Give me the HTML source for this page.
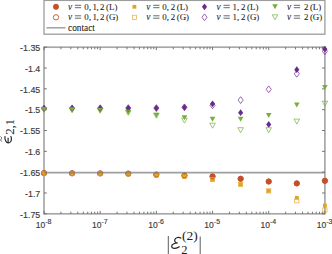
<!DOCTYPE html>
<html><head><meta charset="utf-8"><style>
html,body{margin:0;padding:0;background:#fff;width:332px;height:254px;overflow:hidden}
svg{display:block}
.tk{font-family:"Liberation Sans",sans-serif;font-size:8.9px;fill:#3a3a3a;stroke:#3a3a3a;stroke-width:0.15px}
.lg{font-family:"Liberation Serif",serif;font-size:9.3px;fill:#1e1e1e;stroke:#1e1e1e;stroke-width:0.08px}
.lab{font-family:"Liberation Serif",serif;font-size:13px;fill:#222}
</style></head><body>
<svg width="332" height="254" viewBox="0 0 332 254">
<rect x="44.0" y="47.2" width="280.9" height="166.60000000000002" fill="none" stroke="#a8a8a8" stroke-width="1.7"/>
<line x1="44.0" y1="47.20" x2="46.9" y2="47.20" stroke="#666" stroke-width="0.9"/>
<line x1="324.9" y1="47.20" x2="322.0" y2="47.20" stroke="#666" stroke-width="0.9"/>
<text x="40.3" y="50.90" text-anchor="end" class="tk">-1.35</text>
<line x1="44.0" y1="68.03" x2="46.9" y2="68.03" stroke="#666" stroke-width="0.9"/>
<line x1="324.9" y1="68.03" x2="322.0" y2="68.03" stroke="#666" stroke-width="0.9"/>
<text x="40.3" y="71.73" text-anchor="end" class="tk">-1.4</text>
<line x1="44.0" y1="88.85" x2="46.9" y2="88.85" stroke="#666" stroke-width="0.9"/>
<line x1="324.9" y1="88.85" x2="322.0" y2="88.85" stroke="#666" stroke-width="0.9"/>
<text x="40.3" y="92.55" text-anchor="end" class="tk">-1.45</text>
<line x1="44.0" y1="109.67" x2="46.9" y2="109.67" stroke="#666" stroke-width="0.9"/>
<line x1="324.9" y1="109.67" x2="322.0" y2="109.67" stroke="#666" stroke-width="0.9"/>
<text x="40.3" y="113.37" text-anchor="end" class="tk">-1.5</text>
<line x1="44.0" y1="130.50" x2="46.9" y2="130.50" stroke="#666" stroke-width="0.9"/>
<line x1="324.9" y1="130.50" x2="322.0" y2="130.50" stroke="#666" stroke-width="0.9"/>
<text x="40.3" y="134.20" text-anchor="end" class="tk">-1.55</text>
<line x1="44.0" y1="151.33" x2="46.9" y2="151.33" stroke="#666" stroke-width="0.9"/>
<line x1="324.9" y1="151.33" x2="322.0" y2="151.33" stroke="#666" stroke-width="0.9"/>
<text x="40.3" y="155.03" text-anchor="end" class="tk">-1.6</text>
<line x1="44.0" y1="172.15" x2="46.9" y2="172.15" stroke="#666" stroke-width="0.9"/>
<line x1="324.9" y1="172.15" x2="322.0" y2="172.15" stroke="#666" stroke-width="0.9"/>
<text x="40.3" y="175.85" text-anchor="end" class="tk">-1.65</text>
<line x1="44.0" y1="192.98" x2="46.9" y2="192.98" stroke="#666" stroke-width="0.9"/>
<line x1="324.9" y1="192.98" x2="322.0" y2="192.98" stroke="#666" stroke-width="0.9"/>
<text x="40.3" y="196.68" text-anchor="end" class="tk">-1.7</text>
<line x1="44.0" y1="213.80" x2="46.9" y2="213.80" stroke="#666" stroke-width="0.9"/>
<line x1="324.9" y1="213.80" x2="322.0" y2="213.80" stroke="#666" stroke-width="0.9"/>
<text x="40.3" y="217.50" text-anchor="end" class="tk">-1.75</text>
<line x1="44.00" y1="213.8" x2="44.00" y2="210.9" stroke="#666" stroke-width="0.9"/>
<line x1="44.00" y1="47.2" x2="44.00" y2="50.1" stroke="#666" stroke-width="0.9"/>
<line x1="60.91" y1="213.8" x2="60.91" y2="211.70000000000002" stroke="#666" stroke-width="0.9"/>
<line x1="60.91" y1="47.2" x2="60.91" y2="49.300000000000004" stroke="#666" stroke-width="0.9"/>
<line x1="70.80" y1="213.8" x2="70.80" y2="211.70000000000002" stroke="#666" stroke-width="0.9"/>
<line x1="70.80" y1="47.2" x2="70.80" y2="49.300000000000004" stroke="#666" stroke-width="0.9"/>
<line x1="77.82" y1="213.8" x2="77.82" y2="211.70000000000002" stroke="#666" stroke-width="0.9"/>
<line x1="77.82" y1="47.2" x2="77.82" y2="49.300000000000004" stroke="#666" stroke-width="0.9"/>
<line x1="83.27" y1="213.8" x2="83.27" y2="211.70000000000002" stroke="#666" stroke-width="0.9"/>
<line x1="83.27" y1="47.2" x2="83.27" y2="49.300000000000004" stroke="#666" stroke-width="0.9"/>
<line x1="87.72" y1="213.8" x2="87.72" y2="211.70000000000002" stroke="#666" stroke-width="0.9"/>
<line x1="87.72" y1="47.2" x2="87.72" y2="49.300000000000004" stroke="#666" stroke-width="0.9"/>
<line x1="91.48" y1="213.8" x2="91.48" y2="211.70000000000002" stroke="#666" stroke-width="0.9"/>
<line x1="91.48" y1="47.2" x2="91.48" y2="49.300000000000004" stroke="#666" stroke-width="0.9"/>
<line x1="94.74" y1="213.8" x2="94.74" y2="211.70000000000002" stroke="#666" stroke-width="0.9"/>
<line x1="94.74" y1="47.2" x2="94.74" y2="49.300000000000004" stroke="#666" stroke-width="0.9"/>
<line x1="97.61" y1="213.8" x2="97.61" y2="211.70000000000002" stroke="#666" stroke-width="0.9"/>
<line x1="97.61" y1="47.2" x2="97.61" y2="49.300000000000004" stroke="#666" stroke-width="0.9"/>
<text x="35.80" y="228.4" class="tk" style="font-size:8.5px">10<tspan dy="-4" font-size="7">-8</tspan></text>
<line x1="100.18" y1="213.8" x2="100.18" y2="210.9" stroke="#666" stroke-width="0.9"/>
<line x1="100.18" y1="47.2" x2="100.18" y2="50.1" stroke="#666" stroke-width="0.9"/>
<line x1="117.09" y1="213.8" x2="117.09" y2="211.70000000000002" stroke="#666" stroke-width="0.9"/>
<line x1="117.09" y1="47.2" x2="117.09" y2="49.300000000000004" stroke="#666" stroke-width="0.9"/>
<line x1="126.98" y1="213.8" x2="126.98" y2="211.70000000000002" stroke="#666" stroke-width="0.9"/>
<line x1="126.98" y1="47.2" x2="126.98" y2="49.300000000000004" stroke="#666" stroke-width="0.9"/>
<line x1="134.00" y1="213.8" x2="134.00" y2="211.70000000000002" stroke="#666" stroke-width="0.9"/>
<line x1="134.00" y1="47.2" x2="134.00" y2="49.300000000000004" stroke="#666" stroke-width="0.9"/>
<line x1="139.45" y1="213.8" x2="139.45" y2="211.70000000000002" stroke="#666" stroke-width="0.9"/>
<line x1="139.45" y1="47.2" x2="139.45" y2="49.300000000000004" stroke="#666" stroke-width="0.9"/>
<line x1="143.90" y1="213.8" x2="143.90" y2="211.70000000000002" stroke="#666" stroke-width="0.9"/>
<line x1="143.90" y1="47.2" x2="143.90" y2="49.300000000000004" stroke="#666" stroke-width="0.9"/>
<line x1="147.66" y1="213.8" x2="147.66" y2="211.70000000000002" stroke="#666" stroke-width="0.9"/>
<line x1="147.66" y1="47.2" x2="147.66" y2="49.300000000000004" stroke="#666" stroke-width="0.9"/>
<line x1="150.92" y1="213.8" x2="150.92" y2="211.70000000000002" stroke="#666" stroke-width="0.9"/>
<line x1="150.92" y1="47.2" x2="150.92" y2="49.300000000000004" stroke="#666" stroke-width="0.9"/>
<line x1="153.79" y1="213.8" x2="153.79" y2="211.70000000000002" stroke="#666" stroke-width="0.9"/>
<line x1="153.79" y1="47.2" x2="153.79" y2="49.300000000000004" stroke="#666" stroke-width="0.9"/>
<text x="91.98" y="228.4" class="tk" style="font-size:8.5px">10<tspan dy="-4" font-size="7">-7</tspan></text>
<line x1="156.36" y1="213.8" x2="156.36" y2="210.9" stroke="#666" stroke-width="0.9"/>
<line x1="156.36" y1="47.2" x2="156.36" y2="50.1" stroke="#666" stroke-width="0.9"/>
<line x1="173.27" y1="213.8" x2="173.27" y2="211.70000000000002" stroke="#666" stroke-width="0.9"/>
<line x1="173.27" y1="47.2" x2="173.27" y2="49.300000000000004" stroke="#666" stroke-width="0.9"/>
<line x1="183.16" y1="213.8" x2="183.16" y2="211.70000000000002" stroke="#666" stroke-width="0.9"/>
<line x1="183.16" y1="47.2" x2="183.16" y2="49.300000000000004" stroke="#666" stroke-width="0.9"/>
<line x1="190.18" y1="213.8" x2="190.18" y2="211.70000000000002" stroke="#666" stroke-width="0.9"/>
<line x1="190.18" y1="47.2" x2="190.18" y2="49.300000000000004" stroke="#666" stroke-width="0.9"/>
<line x1="195.63" y1="213.8" x2="195.63" y2="211.70000000000002" stroke="#666" stroke-width="0.9"/>
<line x1="195.63" y1="47.2" x2="195.63" y2="49.300000000000004" stroke="#666" stroke-width="0.9"/>
<line x1="200.08" y1="213.8" x2="200.08" y2="211.70000000000002" stroke="#666" stroke-width="0.9"/>
<line x1="200.08" y1="47.2" x2="200.08" y2="49.300000000000004" stroke="#666" stroke-width="0.9"/>
<line x1="203.84" y1="213.8" x2="203.84" y2="211.70000000000002" stroke="#666" stroke-width="0.9"/>
<line x1="203.84" y1="47.2" x2="203.84" y2="49.300000000000004" stroke="#666" stroke-width="0.9"/>
<line x1="207.10" y1="213.8" x2="207.10" y2="211.70000000000002" stroke="#666" stroke-width="0.9"/>
<line x1="207.10" y1="47.2" x2="207.10" y2="49.300000000000004" stroke="#666" stroke-width="0.9"/>
<line x1="209.97" y1="213.8" x2="209.97" y2="211.70000000000002" stroke="#666" stroke-width="0.9"/>
<line x1="209.97" y1="47.2" x2="209.97" y2="49.300000000000004" stroke="#666" stroke-width="0.9"/>
<text x="148.16" y="228.4" class="tk" style="font-size:8.5px">10<tspan dy="-4" font-size="7">-6</tspan></text>
<line x1="212.54" y1="213.8" x2="212.54" y2="210.9" stroke="#666" stroke-width="0.9"/>
<line x1="212.54" y1="47.2" x2="212.54" y2="50.1" stroke="#666" stroke-width="0.9"/>
<line x1="229.45" y1="213.8" x2="229.45" y2="211.70000000000002" stroke="#666" stroke-width="0.9"/>
<line x1="229.45" y1="47.2" x2="229.45" y2="49.300000000000004" stroke="#666" stroke-width="0.9"/>
<line x1="239.34" y1="213.8" x2="239.34" y2="211.70000000000002" stroke="#666" stroke-width="0.9"/>
<line x1="239.34" y1="47.2" x2="239.34" y2="49.300000000000004" stroke="#666" stroke-width="0.9"/>
<line x1="246.36" y1="213.8" x2="246.36" y2="211.70000000000002" stroke="#666" stroke-width="0.9"/>
<line x1="246.36" y1="47.2" x2="246.36" y2="49.300000000000004" stroke="#666" stroke-width="0.9"/>
<line x1="251.81" y1="213.8" x2="251.81" y2="211.70000000000002" stroke="#666" stroke-width="0.9"/>
<line x1="251.81" y1="47.2" x2="251.81" y2="49.300000000000004" stroke="#666" stroke-width="0.9"/>
<line x1="256.26" y1="213.8" x2="256.26" y2="211.70000000000002" stroke="#666" stroke-width="0.9"/>
<line x1="256.26" y1="47.2" x2="256.26" y2="49.300000000000004" stroke="#666" stroke-width="0.9"/>
<line x1="260.02" y1="213.8" x2="260.02" y2="211.70000000000002" stroke="#666" stroke-width="0.9"/>
<line x1="260.02" y1="47.2" x2="260.02" y2="49.300000000000004" stroke="#666" stroke-width="0.9"/>
<line x1="263.28" y1="213.8" x2="263.28" y2="211.70000000000002" stroke="#666" stroke-width="0.9"/>
<line x1="263.28" y1="47.2" x2="263.28" y2="49.300000000000004" stroke="#666" stroke-width="0.9"/>
<line x1="266.15" y1="213.8" x2="266.15" y2="211.70000000000002" stroke="#666" stroke-width="0.9"/>
<line x1="266.15" y1="47.2" x2="266.15" y2="49.300000000000004" stroke="#666" stroke-width="0.9"/>
<text x="204.34" y="228.4" class="tk" style="font-size:8.5px">10<tspan dy="-4" font-size="7">-5</tspan></text>
<line x1="268.72" y1="213.8" x2="268.72" y2="210.9" stroke="#666" stroke-width="0.9"/>
<line x1="268.72" y1="47.2" x2="268.72" y2="50.1" stroke="#666" stroke-width="0.9"/>
<line x1="285.63" y1="213.8" x2="285.63" y2="211.70000000000002" stroke="#666" stroke-width="0.9"/>
<line x1="285.63" y1="47.2" x2="285.63" y2="49.300000000000004" stroke="#666" stroke-width="0.9"/>
<line x1="295.52" y1="213.8" x2="295.52" y2="211.70000000000002" stroke="#666" stroke-width="0.9"/>
<line x1="295.52" y1="47.2" x2="295.52" y2="49.300000000000004" stroke="#666" stroke-width="0.9"/>
<line x1="302.54" y1="213.8" x2="302.54" y2="211.70000000000002" stroke="#666" stroke-width="0.9"/>
<line x1="302.54" y1="47.2" x2="302.54" y2="49.300000000000004" stroke="#666" stroke-width="0.9"/>
<line x1="307.99" y1="213.8" x2="307.99" y2="211.70000000000002" stroke="#666" stroke-width="0.9"/>
<line x1="307.99" y1="47.2" x2="307.99" y2="49.300000000000004" stroke="#666" stroke-width="0.9"/>
<line x1="312.44" y1="213.8" x2="312.44" y2="211.70000000000002" stroke="#666" stroke-width="0.9"/>
<line x1="312.44" y1="47.2" x2="312.44" y2="49.300000000000004" stroke="#666" stroke-width="0.9"/>
<line x1="316.20" y1="213.8" x2="316.20" y2="211.70000000000002" stroke="#666" stroke-width="0.9"/>
<line x1="316.20" y1="47.2" x2="316.20" y2="49.300000000000004" stroke="#666" stroke-width="0.9"/>
<line x1="319.46" y1="213.8" x2="319.46" y2="211.70000000000002" stroke="#666" stroke-width="0.9"/>
<line x1="319.46" y1="47.2" x2="319.46" y2="49.300000000000004" stroke="#666" stroke-width="0.9"/>
<line x1="322.33" y1="213.8" x2="322.33" y2="211.70000000000002" stroke="#666" stroke-width="0.9"/>
<line x1="322.33" y1="47.2" x2="322.33" y2="49.300000000000004" stroke="#666" stroke-width="0.9"/>
<text x="260.52" y="228.4" class="tk" style="font-size:8.5px">10<tspan dy="-4" font-size="7">-4</tspan></text>
<line x1="324.90" y1="213.8" x2="324.90" y2="210.9" stroke="#666" stroke-width="0.9"/>
<line x1="324.90" y1="47.2" x2="324.90" y2="50.1" stroke="#666" stroke-width="0.9"/>
<text x="316.70" y="228.4" class="tk" style="font-size:8.5px">10<tspan dy="-4" font-size="7">-3</tspan></text>
<circle cx="44.00" cy="173.10" r="2.7" fill="#c2512a" stroke="#c2512a" stroke-width="0.6"/>
<circle cx="72.09" cy="173.30" r="2.7" fill="#c2512a" stroke="#c2512a" stroke-width="0.6"/>
<circle cx="100.18" cy="173.40" r="2.7" fill="#c2512a" stroke="#c2512a" stroke-width="0.6"/>
<circle cx="128.27" cy="173.60" r="2.7" fill="#c2512a" stroke="#c2512a" stroke-width="0.6"/>
<circle cx="156.36" cy="174.60" r="2.7" fill="#c2512a" stroke="#c2512a" stroke-width="0.6"/>
<circle cx="184.45" cy="175.60" r="2.7" fill="#c2512a" stroke="#c2512a" stroke-width="0.6"/>
<circle cx="212.54" cy="176.40" r="2.7" fill="#c2512a" stroke="#c2512a" stroke-width="0.6"/>
<circle cx="240.63" cy="178.80" r="2.7" fill="#c2512a" stroke="#c2512a" stroke-width="0.6"/>
<circle cx="268.72" cy="181.50" r="2.7" fill="#c2512a" stroke="#c2512a" stroke-width="0.6"/>
<circle cx="296.81" cy="183.40" r="2.7" fill="#c2512a" stroke="#c2512a" stroke-width="0.6"/>
<circle cx="324.90" cy="180.80" r="2.7" fill="#c2512a" stroke="#c2512a" stroke-width="0.6"/>
<rect x="42.10" y="171.40" width="3.8" height="3.8" fill="#dfa52a"/>
<rect x="70.19" y="171.60" width="3.8" height="3.8" fill="#dfa52a"/>
<rect x="98.28" y="171.70" width="3.8" height="3.8" fill="#dfa52a"/>
<rect x="126.37" y="172.00" width="3.8" height="3.8" fill="#dfa52a"/>
<rect x="154.46" y="173.20" width="3.8" height="3.8" fill="#dfa52a"/>
<rect x="182.55" y="174.40" width="3.8" height="3.8" fill="#dfa52a"/>
<rect x="210.64" y="177.70" width="3.8" height="3.8" fill="#dfa52a"/>
<rect x="238.73" y="182.50" width="3.8" height="3.8" fill="#dfa52a"/>
<rect x="266.82" y="189.00" width="3.8" height="3.8" fill="#dfa52a"/>
<rect x="294.91" y="195.90" width="3.8" height="3.8" fill="#dfa52a"/>
<rect x="323.00" y="203.70" width="3.8" height="3.8" fill="#dfa52a"/>
<path d="M44.00 105.10L46.55 108.50L44.00 111.90L41.45 108.50Z" fill="#6b2a8e"/>
<path d="M72.09 104.90L74.64 108.30L72.09 111.70L69.54 108.30Z" fill="#6b2a8e"/>
<path d="M100.18 104.80L102.73 108.20L100.18 111.60L97.63 108.20Z" fill="#6b2a8e"/>
<path d="M128.27 104.70L130.82 108.10L128.27 111.50L125.72 108.10Z" fill="#6b2a8e"/>
<path d="M156.36 104.70L158.91 108.10L156.36 111.50L153.81 108.10Z" fill="#6b2a8e"/>
<path d="M184.45 103.90L187.00 107.30L184.45 110.70L181.90 107.30Z" fill="#6b2a8e"/>
<path d="M212.54 100.40L215.09 103.80L212.54 107.20L209.99 103.80Z" fill="#6b2a8e"/>
<path d="M240.63 109.30L243.18 112.70L240.63 116.10L238.08 112.70Z" fill="#6b2a8e"/>
<path d="M268.72 121.00L271.27 124.40L268.72 127.80L266.17 124.40Z" fill="#6b2a8e"/>
<path d="M296.81 66.30L299.36 69.70L296.81 73.10L294.26 69.70Z" fill="#6b2a8e"/>
<path d="M324.90 45.80L327.45 49.20L324.90 52.60L322.35 49.20Z" fill="#6b2a8e"/>
<path d="M41.20 107.10L46.80 107.10L44.00 112.10Z" fill="#78ae3e"/>
<path d="M69.29 107.50L74.89 107.50L72.09 112.50Z" fill="#78ae3e"/>
<path d="M97.38 108.00L102.98 108.00L100.18 113.00Z" fill="#78ae3e"/>
<path d="M125.47 110.00L131.07 110.00L128.27 115.00Z" fill="#78ae3e"/>
<path d="M153.56 112.70L159.16 112.70L156.36 117.70Z" fill="#78ae3e"/>
<path d="M181.65 115.20L187.25 115.20L184.45 120.20Z" fill="#78ae3e"/>
<path d="M209.74 116.80L215.34 116.80L212.54 121.80Z" fill="#78ae3e"/>
<path d="M237.83 116.80L243.43 116.80L240.63 121.80Z" fill="#78ae3e"/>
<path d="M265.92 112.90L271.52 112.90L268.72 117.90Z" fill="#78ae3e"/>
<path d="M294.01 102.40L299.61 102.40L296.81 107.40Z" fill="#78ae3e"/>
<path d="M322.10 84.90L327.70 84.90L324.90 89.90Z" fill="#78ae3e"/>
<circle cx="44.00" cy="173.10" r="2.5" fill="none" stroke="#c2512a" stroke-width="0.9"/>
<circle cx="72.09" cy="173.30" r="2.5" fill="none" stroke="#c2512a" stroke-width="0.9"/>
<circle cx="100.18" cy="173.40" r="2.5" fill="none" stroke="#c2512a" stroke-width="0.9"/>
<circle cx="128.27" cy="173.60" r="2.5" fill="none" stroke="#c2512a" stroke-width="0.9"/>
<circle cx="156.36" cy="174.60" r="2.5" fill="none" stroke="#c2512a" stroke-width="0.9"/>
<circle cx="184.45" cy="175.60" r="2.5" fill="none" stroke="#c2512a" stroke-width="0.9"/>
<circle cx="212.54" cy="176.40" r="2.5" fill="none" stroke="#c2512a" stroke-width="0.9"/>
<circle cx="240.63" cy="178.80" r="2.5" fill="none" stroke="#c2512a" stroke-width="0.9"/>
<circle cx="268.72" cy="181.50" r="2.5" fill="none" stroke="#c2512a" stroke-width="0.9"/>
<circle cx="296.81" cy="183.40" r="2.5" fill="none" stroke="#c2512a" stroke-width="0.9"/>
<circle cx="324.90" cy="180.80" r="2.5" fill="none" stroke="#c2512a" stroke-width="0.9"/>
<rect x="41.90" y="171.20" width="4.2" height="4.2" fill="none" stroke="#dfa52a" stroke-width="0.65"/>
<rect x="69.99" y="171.40" width="4.2" height="4.2" fill="none" stroke="#dfa52a" stroke-width="0.65"/>
<rect x="98.08" y="171.50" width="4.2" height="4.2" fill="none" stroke="#dfa52a" stroke-width="0.65"/>
<rect x="126.17" y="171.80" width="4.2" height="4.2" fill="none" stroke="#dfa52a" stroke-width="0.65"/>
<rect x="154.26" y="173.00" width="4.2" height="4.2" fill="none" stroke="#dfa52a" stroke-width="0.65"/>
<rect x="182.35" y="174.20" width="4.2" height="4.2" fill="none" stroke="#dfa52a" stroke-width="0.65"/>
<rect x="210.44" y="177.50" width="4.2" height="4.2" fill="none" stroke="#dfa52a" stroke-width="0.65"/>
<rect x="238.53" y="182.30" width="4.2" height="4.2" fill="none" stroke="#dfa52a" stroke-width="0.65"/>
<rect x="266.62" y="188.80" width="4.2" height="4.2" fill="none" stroke="#dfa52a" stroke-width="0.65"/>
<rect x="294.71" y="198.70" width="4.2" height="4.2" fill="none" stroke="#dfa52a" stroke-width="0.65"/>
<rect x="322.80" y="207.90" width="4.2" height="4.2" fill="none" stroke="#dfa52a" stroke-width="0.65"/>
<path d="M44.00 105.10L46.55 108.50L44.00 111.90L41.45 108.50Z" fill="none" stroke="#6b2a8e" stroke-width="0.7"/>
<path d="M72.09 104.90L74.64 108.30L72.09 111.70L69.54 108.30Z" fill="none" stroke="#6b2a8e" stroke-width="0.7"/>
<path d="M100.18 104.80L102.73 108.20L100.18 111.60L97.63 108.20Z" fill="none" stroke="#6b2a8e" stroke-width="0.7"/>
<path d="M128.27 104.70L130.82 108.10L128.27 111.50L125.72 108.10Z" fill="none" stroke="#6b2a8e" stroke-width="0.7"/>
<path d="M156.36 104.70L158.91 108.10L156.36 111.50L153.81 108.10Z" fill="none" stroke="#6b2a8e" stroke-width="0.7"/>
<path d="M184.45 103.90L187.00 107.30L184.45 110.70L181.90 107.30Z" fill="none" stroke="#6b2a8e" stroke-width="0.7"/>
<path d="M212.54 101.90L215.09 105.30L212.54 108.70L209.99 105.30Z" fill="none" stroke="#6b2a8e" stroke-width="0.7"/>
<path d="M240.63 96.70L243.18 100.10L240.63 103.50L238.08 100.10Z" fill="none" stroke="#6b2a8e" stroke-width="0.7"/>
<path d="M268.72 85.90L271.27 89.30L268.72 92.70L266.17 89.30Z" fill="none" stroke="#6b2a8e" stroke-width="0.7"/>
<path d="M296.81 70.40L299.36 73.80L296.81 77.20L294.26 73.80Z" fill="none" stroke="#6b2a8e" stroke-width="0.7"/>
<path d="M324.90 47.90L327.45 51.30L324.90 54.70L322.35 51.30Z" fill="none" stroke="#6b2a8e" stroke-width="0.7"/>
<path d="M41.20 107.40L46.80 107.40L44.00 112.40Z" fill="none" stroke="#78ae3e" stroke-width="0.7"/>
<path d="M69.29 107.80L74.89 107.80L72.09 112.80Z" fill="none" stroke="#78ae3e" stroke-width="0.7"/>
<path d="M97.38 108.30L102.98 108.30L100.18 113.30Z" fill="none" stroke="#78ae3e" stroke-width="0.7"/>
<path d="M125.47 110.30L131.07 110.30L128.27 115.30Z" fill="none" stroke="#78ae3e" stroke-width="0.7"/>
<path d="M153.56 113.30L159.16 113.30L156.36 118.30Z" fill="none" stroke="#78ae3e" stroke-width="0.7"/>
<path d="M181.65 118.10L187.25 118.10L184.45 123.10Z" fill="none" stroke="#78ae3e" stroke-width="0.7"/>
<path d="M209.74 123.20L215.34 123.20L212.54 128.20Z" fill="none" stroke="#78ae3e" stroke-width="0.7"/>
<path d="M237.83 127.70L243.43 127.70L240.63 132.70Z" fill="none" stroke="#78ae3e" stroke-width="0.7"/>
<path d="M265.92 127.70L271.52 127.70L268.72 132.70Z" fill="none" stroke="#78ae3e" stroke-width="0.7"/>
<path d="M294.01 119.10L299.61 119.10L296.81 124.10Z" fill="none" stroke="#78ae3e" stroke-width="0.7"/>
<path d="M322.10 101.20L327.70 101.20L324.90 106.20Z" fill="none" stroke="#78ae3e" stroke-width="0.7"/>
<line x1="44.0" y1="172.7" x2="324.9" y2="172.7" stroke="#7a7a7a" stroke-opacity="0.72" stroke-width="1.7"/>
<rect x="44.0" y="0.4" width="280.9" height="33.8" fill="#fff" stroke="#9c9c9c" stroke-width="1.3"/>
<circle cx="56.00" cy="6.80" r="2.7" fill="#c2512a" stroke="#c2512a" stroke-width="0.6"/>
<text x="68" y="9.90" class="lg" font-style="italic">ν</text>
<path d="M74.90 5.30H81.20M74.90 7.70H81.20" stroke="#2a2a2a" stroke-width="0.7"/>
<text x="84.30 89.00 92.50 96.40 100.00" y="9.90" class="lg" style="font-size:8.9px">0,1,2</text>
<text x="106.00" y="9.90" class="lg" style="font-size:8.9px">(L)</text>
<circle cx="56.00" cy="17.30" r="2.65" fill="none" stroke="#c2512a" stroke-width="0.9"/>
<text x="68" y="20.40" class="lg" font-style="italic">ν</text>
<path d="M74.90 15.80H81.20M74.90 18.20H81.20" stroke="#2a2a2a" stroke-width="0.7"/>
<text x="84.30 89.00 92.50 96.40 100.00" y="20.40" class="lg" style="font-size:8.9px">0,1,2</text>
<text x="106.00" y="20.40" class="lg" style="font-size:8.9px">(G)</text>
<rect x="132.50" y="4.90" width="3.8" height="3.8" fill="#dfa52a"/>
<text x="146.3" y="9.90" class="lg" font-style="italic">ν</text>
<path d="M153.20 5.30H159.50M153.20 7.70H159.50" stroke="#2a2a2a" stroke-width="0.7"/>
<text x="162.20 166.80 170.70" y="9.90" class="lg" style="font-size:8.9px">0,2</text>
<text x="176.70" y="9.90" class="lg" style="font-size:8.9px">(L)</text>
<rect x="132.30" y="15.20" width="4.2" height="4.2" fill="none" stroke="#dfa52a" stroke-width="0.65"/>
<text x="146.3" y="20.40" class="lg" font-style="italic">ν</text>
<path d="M153.20 15.80H159.50M153.20 18.20H159.50" stroke="#2a2a2a" stroke-width="0.7"/>
<text x="162.20 166.80 170.70" y="20.40" class="lg" style="font-size:8.9px">0,2</text>
<text x="176.70" y="20.40" class="lg" style="font-size:8.9px">(G)</text>
<path d="M204.50 3.40L207.05 6.80L204.50 10.20L201.95 6.80Z" fill="#6b2a8e"/>
<text x="216.6" y="9.90" class="lg" font-style="italic">ν</text>
<path d="M223.50 5.30H229.80M223.50 7.70H229.80" stroke="#2a2a2a" stroke-width="0.7"/>
<text x="232.50 237.10 241.00" y="9.90" class="lg" style="font-size:8.9px">1,2</text>
<text x="247.00" y="9.90" class="lg" style="font-size:8.9px">(L)</text>
<path d="M204.50 13.90L207.05 17.30L204.50 20.70L201.95 17.30Z" fill="none" stroke="#6b2a8e" stroke-width="0.7"/>
<text x="216.6" y="20.40" class="lg" font-style="italic">ν</text>
<path d="M223.50 15.80H229.80M223.50 18.20H229.80" stroke="#2a2a2a" stroke-width="0.7"/>
<text x="232.50 237.10 241.00" y="20.40" class="lg" style="font-size:8.9px">1,2</text>
<text x="247.00" y="20.40" class="lg" style="font-size:8.9px">(G)</text>
<path d="M272.20 4.30L277.80 4.30L275.00 9.30Z" fill="#78ae3e"/>
<text x="286.9" y="9.90" class="lg" font-style="italic">ν</text>
<path d="M293.80 5.30H300.10M293.80 7.70H300.10" stroke="#2a2a2a" stroke-width="0.7"/>
<text x="304.00" y="9.90" class="lg" style="font-size:8.9px">2</text>
<text x="309.90" y="9.90" class="lg" style="font-size:8.9px">(L)</text>
<path d="M272.20 14.80L277.80 14.80L275.00 19.80Z" fill="none" stroke="#78ae3e" stroke-width="0.7"/>
<text x="286.9" y="20.40" class="lg" font-style="italic">ν</text>
<path d="M293.80 15.80H300.10M293.80 18.20H300.10" stroke="#2a2a2a" stroke-width="0.7"/>
<text x="304.00" y="20.40" class="lg" style="font-size:8.9px">2</text>
<text x="309.90" y="20.40" class="lg" style="font-size:8.9px">(G)</text>
<line x1="46.5" y1="27.8" x2="65.5" y2="27.8" stroke="#a0a0a0" stroke-width="1.5"/>
<text x="68" y="30.5" class="lg">contact</text>
<g transform="translate(11.3,146) rotate(-90)"><path d="M9.8 -6.3C6 -6.8 3 -5 3 -3C3 -0.8 5.5 0.3 7.5 0.1C8.5 0 9.3 -0.3 9.8 -0.7M3.3 -3.2L8.3 -3.2" fill="none" stroke="#222" stroke-width="1.15"/><path d="M4.5 -9.6C5.5 -11 6.5 -10.6 7 -10.1C7.5 -9.6 8.5 -9.3 9.5 -10.8" fill="none" stroke="#333" stroke-width="0.8"/><text x="11.2" y="2.4" class="lab" letter-spacing="-0.2">2,1</text></g>
<line x1="168.3" y1="236" x2="168.3" y2="254" stroke="#4a4a4a" stroke-width="0.9"/>
<line x1="200.2" y1="236.5" x2="200.2" y2="254" stroke="#4a4a4a" stroke-width="0.9"/>
<path d="M180.8 238.1C179.2 236.9 175.4 237.1 174.7 239.9C174.3 241.7 175.9 242.9 177.8 243.0C174.3 243.1 171.5 244.6 171.7 246.5C171.9 248.7 176.2 249.1 179.3 246.8" fill="none" stroke="#222" stroke-width="1.2" stroke-linecap="round"/>
<text x="181.2" y="253.6" class="lab" style="font-size:12.5px">2</text>
<text x="182" y="240" class="lab" style="font-size:13.5px">(2)</text>
</svg></body></html>
